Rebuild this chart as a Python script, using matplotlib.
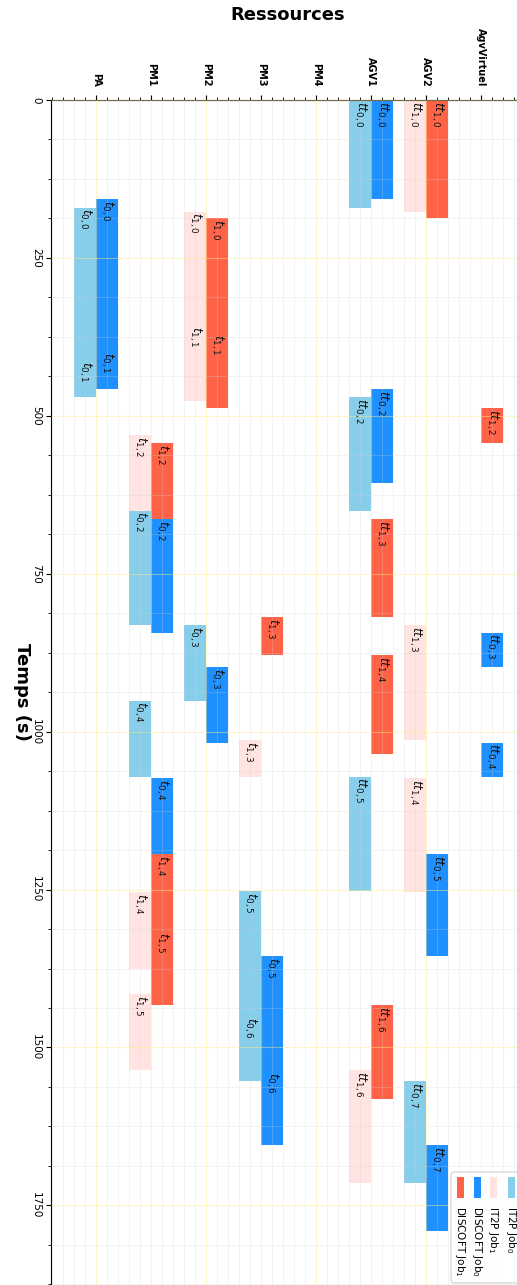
import matplotlib
matplotlib.use('Agg')
import matplotlib.pyplot as plt
from matplotlib.ticker import MultipleLocator, FixedLocator
from matplotlib.patches import Rectangle, FancyBboxPatch

# ---------------- data ----------------
resources = ['PA', 'PM1', 'PM2', 'PM3', 'PM4', 'AGV1', 'AGV2', 'AgvVirtuel']
time_ticks = [0, 250, 500, 750, 1000, 1250, 1500, 1750]

it2p_job0_res = ['AGV1', 'PA', 'PA', 'AGV1', 'PM1', 'PM2', 'PM1', 'AGV1', 'PM3', 'PM3', 'AGV2']
it2p_job0_start = [0, 170.5, 411.6, 470.5, 650, 831, 951, 1071, 1253, 1451, 1553]
it2p_job0_end = [170.5, 411.6, 470.5, 650, 831, 951, 1071, 1253, 1451, 1553, 1714]
it2p_job0_lbl = ['tt_{0,0}', 't_{0,0}', 't_{0,1}', 'tt_{0,2}', 't_{0,2}', 't_{0,3}', 't_{0,4}',
                 'tt_{0,5}', 't_{0,5}', 't_{0,6}', 'tt_{0,7}']

it2p_job1_res = ['AGV2', 'PM2', 'PM2', 'PM1', 'AGV2', 'PM3', 'AGV2', 'PM1', 'PM1', 'AGV1']
it2p_job1_start = [0, 176.8, 357, 530.3, 831, 1013, 1073.7, 1254.6, 1415.3, 1535.6]
it2p_job1_end = [176.8, 357, 476.5, 650, 1013, 1072, 1254.6, 1375, 1535.6, 1714]
it2p_job1_lbl = ['tt_{1,0}', 't_{1,0}', 't_{1,1}', 't_{1,2}', 'tt_{1,3}', 't_{1,3}', 'tt_{1,4}',
                 't_{1,4}', 't_{1,5}', 'tt_{1,6}']

disc_job0_res = ['AGV1', 'PA', 'PA', 'AGV1', 'PM1', 'AgvVirtuel', 'PM2', 'AgvVirtuel', 'PM1',
                 'AGV2', 'PM3', 'PM3', 'AGV2']
disc_job0_start = [0, 157, 398.3, 458, 663.2, 843.2, 898.1, 1017.3, 1073.7, 1193.5, 1355, 1538, 1655]
disc_job0_end = [157, 398.3, 458, 606.8, 843.2, 898.1, 1017.3, 1072, 1193.5, 1355, 1538, 1655, 1790]
disc_job0_lbl = ['tt_{0,0}', 't_{0,0}', 't_{0,1}', 'tt_{0,2}', 't_{0,2}', 'tt_{0,3}', 't_{0,3}',
                 'tt_{0,4}', 't_{0,4}', 'tt_{0,5}', 't_{0,5}', 't_{0,6}', 'tt_{0,7}']

disc_job1_res = ['AGV2', 'PM2', 'PM2', 'AgvVirtuel', 'PM1', 'AGV1', 'PM3', 'AGV1', 'PM1', 'PM1', 'AGV1']
disc_job1_start = [0, 187.3, 369.4, 488, 543.5, 663.2, 818.8, 878.6, 1193.5, 1316.4, 1432.6]
disc_job1_end = [187.3, 369.4, 488, 543.4, 663.2, 818.8, 878.6, 1035, 1316.4, 1432.6, 1581.5]
disc_job1_lbl = ['tt_{1,0}', 't_{1,0}', 't_{1,1}', 'tt_{1,2}', 't_{1,2}', 'tt_{1,3}', 't_{1,3}',
                 'tt_{1,4}', 't_{1,4}', 't_{1,5}', 'tt_{1,6}']

series_names = ['IT2P Job$_0$', 'IT2P Job$_1$', 'DISCOFT Job$_0$', 'DISCOFT Job$_1$']
series_colors = ['#87CEEB', '#FFE4E1', '#1E90FF', '#FF6347']

# ---------------- figure ----------------
W, H = 517, 1285
fig = plt.figure(figsize=(W / 100, H / 100), dpi=100)


def fx(px):
    return px / W


def fy(py):
    return 1 - py / H


ax = fig.add_axes([fx(51), 0, 1 - fx(51), fy(100)])
pos = {r: i + 1 for i, r in enumerate(resources)}
bw = 0.4

series = [
    (it2p_job0_res, it2p_job0_start, it2p_job0_end, it2p_job0_lbl, -bw / 2),
    (it2p_job1_res, it2p_job1_start, it2p_job1_end, it2p_job1_lbl, -bw / 2),
    (disc_job0_res, disc_job0_start, disc_job0_end, disc_job0_lbl, bw / 2),
    (disc_job1_res, disc_job1_start, disc_job1_end, disc_job1_lbl, bw / 2),
]

for (res, st, en, lb, off), col in zip(series, series_colors):
    xs = [pos[r] + off for r in res]
    hs = [e - s for s, e in zip(st, en)]
    ax.bar(xs, hs, bottom=st, width=bw, color=col, edgecolor='none', zorder=1)
    for x, s, l in zip(xs, st, lb):
        ax.text(x, s + 1, '$' + l + '$', rotation=-90, ha='center', va='top',
                fontsize=9, color='#111111', zorder=4)

ax.set_xlim(0.18, 8.655)
ax.set_ylim(1876, 0)

ax.xaxis.tick_top()
ax.xaxis.set_major_locator(FixedLocator(list(range(1, len(resources) + 1))))
ax.set_xticklabels(resources, rotation=-90, fontsize=7, fontweight='bold', ha='center', va='bottom')
ax.xaxis.set_minor_locator(MultipleLocator(0.2))
ax.tick_params(axis='x', which='both', top=True, bottom=False, labeltop=True, labelbottom=False)
ax.tick_params(axis='x', which='major', pad=6)

ax.yaxis.set_major_locator(FixedLocator(time_ticks))
ax.set_yticklabels([str(t) for t in time_ticks], rotation=-90, fontsize=7.5, va='center')
ax.yaxis.set_minor_locator(MultipleLocator(62.5))

ax.spines['right'].set_visible(False)
ax.spines['bottom'].set_visible(False)

ax.set_axisbelow(False)
ax.grid(which='major', color='#FFEB8A', alpha=0.45, linewidth=0.8, zorder=2)
ax.grid(which='minor', color='#D0D0D0', alpha=0.3, linewidth=0.6, zorder=2)

fig.text(fx(288), fy(15), 'Ressources', ha='center', va='center', fontsize=13, fontweight='bold')
fig.text(fx(22), fy(692), 'Temps (s)', ha='center', va='center', rotation=-90,
         fontsize=13, fontweight='bold')

# ---------------- legend (rotated, drawn manually) ----------------
frame = FancyBboxPatch((fx(451), fy(1283)), fx(90), fy(1172) - fy(1283),
                       boxstyle='round,pad=0,rounding_size=0.004', transform=fig.transFigure,
                       facecolor='white', edgecolor='#CCCCCC', linewidth=0.8, alpha=0.9, zorder=5)
fig.add_artist(frame)
leg_x = [511, 493, 477, 460]
for xc, name, col in zip(leg_x, series_names, series_colors):
    fig.add_artist(Rectangle((fx(xc - 3.5), fy(1198)), fx(7), fy(1177) - fy(1198),
                             transform=fig.transFigure, facecolor=col, edgecolor='none', zorder=6))
    fig.text(fx(xc), fy(1206), name, rotation=-90, ha='center', va='top', fontsize=7.5, zorder=7)

fig.savefig('out.png', dpi=100)
